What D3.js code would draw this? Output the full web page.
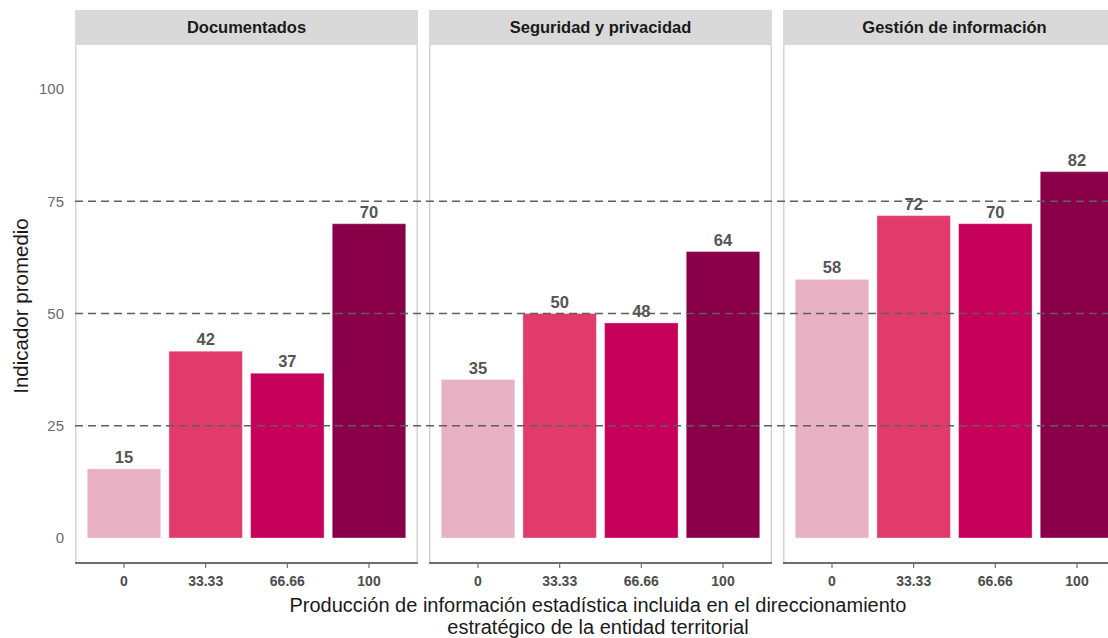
<!DOCTYPE html>
<html>
<head>
<meta charset="utf-8">
<script src="https://cdn.jsdelivr.net/npm/d3@7"></script>
<style>
  html, body { margin: 0; padding: 0; background: #fff; }
  svg { display: block; font-family: "Liberation Sans", Arial, sans-serif; }
</style>
</head>
<body>
<svg id="chart" width="1108" height="638"></svg>
<script>
// ---- data ----
const panels = ["Documentados", "Seguridad y privacidad", "Gestión de información"];
const categories = ["0", "33.33", "66.66", "100"];
const documentados = [15.4, 41.6, 36.7, 70.0];
const seguridad = [35.3, 50.0, 47.9, 63.8];
const gestion = [57.6, 71.8, 70.0, 81.6];
const yTicks = [0, 25, 50, 75, 100];
const refLines = [25, 50, 75];
const colors = ["#e7b0c3", "#e03b6b", "#c6005a", "#8a0048"];
const xTitle = ["Producción de información estadística incluida en el direccionamiento",
                "estratégico de la entidad territorial"];
const yTitle = "Indicador promedio";

const seriesByPanel = [documentados, seguridad, gestion];

// ---- layout ----
const svg = d3.select("#chart");
const panelW = 343, gap = 11, left0 = 75;
const stripTop = 10, stripBottom = 45, panelBottom = 563;

const y = d3.scaleLinear().domain([0, 100]).range([538, 89]);
const color = d3.scaleOrdinal().domain(categories).range(colors);

const panelX = d3.scaleBand().domain(panels)
  .range([left0, left0 + 3 * panelW + 2 * gap]).paddingInner(gap / (panelW + gap));

const x = d3.scaleBand().domain(categories).range([0, panelW])
  .paddingInner(0.1).paddingOuter(0.15);

// y tick labels
svg.append("g").selectAll("text").data(yTicks).join("text")
  .attr("x", 64).attr("y", d => y(d)).attr("dy", "0.35em")
  .attr("text-anchor", "end").attr("fill", "#6b6b6b").attr("font-size", 15)
  .text(d => d);

panels.forEach((p, i) => {
  const px = panelX(p);
  const g = svg.append("g").attr("transform", `translate(${px},0)`);
  // strip
  g.append("rect").attr("x", 0).attr("y", stripTop).attr("width", panelW)
    .attr("height", stripBottom - stripTop).attr("fill", "#d9d9d9");
  g.append("text").attr("x", panelW / 2).attr("y", (stripTop + stripBottom) / 2)
    .attr("dy", "0.35em").attr("text-anchor", "middle")
    .attr("font-weight", "bold").attr("font-size", 16.5).attr("fill", "#1a1a1a").text(p);
  // panel borders left/right
  g.append("line").attr("x1", 0.75).attr("x2", 0.75).attr("y1", stripBottom).attr("y2", panelBottom)
    .attr("stroke", "#d4d4d4").attr("stroke-width", 1.5);
  g.append("line").attr("x1", panelW - 0.75).attr("x2", panelW - 0.75).attr("y1", stripBottom).attr("y2", panelBottom)
    .attr("stroke", "#d4d4d4").attr("stroke-width", 1.5);
  // bars
  const vals = seriesByPanel[i];
  g.append("g").selectAll("rect").data(categories).join("rect")
    .attr("x", d => x(d)).attr("width", x.bandwidth())
    .attr("y", (d, k) => y(vals[k])).attr("height", (d, k) => y(0) - y(vals[k]))
    .attr("fill", d => color(d))
    .attr("stroke", "#ffffff").attr("stroke-opacity", 0.35).attr("stroke-width", 1);
  // x axis line
  g.append("line").attr("x1", 0).attr("x2", panelW).attr("y1", panelBottom).attr("y2", panelBottom)
    .attr("stroke", "#6e6e6e").attr("stroke-width", 2);
  // x ticks
  const axis = d3.axisBottom(x).tickSize(5).tickPadding(8);
  const ag = g.append("g").attr("transform", `translate(0,${panelBottom})`).call(axis);
  ag.select(".domain").remove();
  ag.selectAll(".tick line").attr("stroke", "#6e6e6e").attr("stroke-width", 1.2);
  ag.selectAll(".tick text").attr("font-size", 14).attr("font-weight", "bold")
    .attr("fill", "#4d4d4d").attr("font-family", "Liberation Sans, Arial, sans-serif");
});

// dashed reference lines across all panels
svg.append("g").selectAll("line").data(refLines).join("line")
  .attr("x1", left0).attr("x2", 1108)
  .attr("y1", d => y(d)).attr("y2", d => y(d))
  .attr("stroke", "#5e5e5e").attr("stroke-width", 1.5).attr("stroke-dasharray", "8,5");

// value labels
panels.forEach((p, i) => {
  const px = panelX(p);
  const vals = seriesByPanel[i];
  svg.append("g").attr("transform", `translate(${px},0)`)
    .selectAll("text").data(categories).join("text")
    .attr("x", d => x(d) + x.bandwidth() / 2)
    .attr("y", (d, k) => y(vals[k]) - 6)
    .attr("text-anchor", "middle").attr("font-weight", "bold").attr("font-size", 16.5)
    .attr("fill", "#555").text((d, k) => Math.round(vals[k]));
});

// axis titles
svg.append("text").attr("transform", "translate(28,306) rotate(-90)")
  .attr("text-anchor", "middle").attr("font-size", 20.5).attr("fill", "#1a1a1a").text(yTitle);
svg.append("g").selectAll("text").data(xTitle).join("text")
  .attr("x", 598).attr("y", (d, k) => 612 + k * 22)
  .attr("text-anchor", "middle").attr("font-size", 20).attr("fill", "#1a1a1a").text(d => d);
</script>
</body>
</html>
